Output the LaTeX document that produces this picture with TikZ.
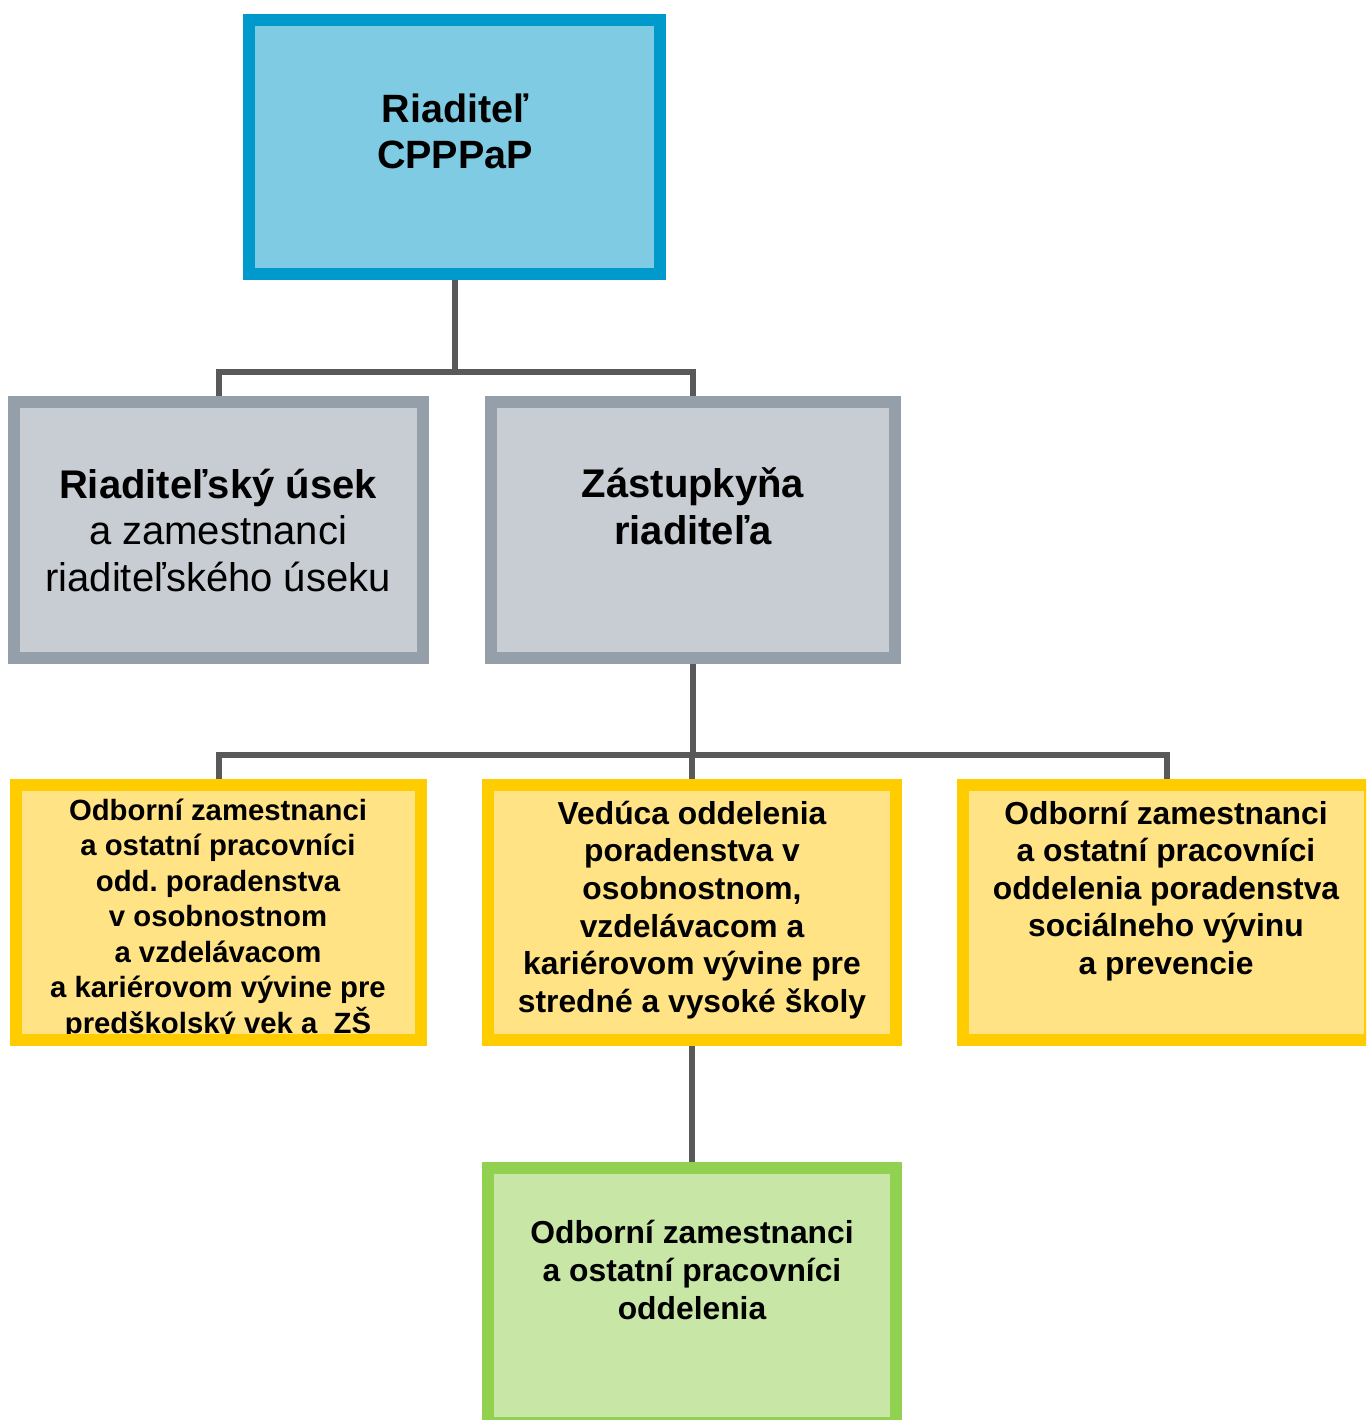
\documentclass[tikz,border=0pt]{standalone}
\usepackage{fontspec}
\setmainfont{Liberation Sans}
\frenchspacing
\usetikzlibrary{backgrounds}
\definecolor{topfill}{HTML}{7FCBE4}
\definecolor{topdraw}{HTML}{0099CC}
\definecolor{grayfill}{HTML}{C8CDD4}
\definecolor{graydraw}{HTML}{959FA9}
\definecolor{yelfill}{HTML}{FFE384}
\definecolor{yeldraw}{HTML}{FFCC00}
\definecolor{grnfill}{HTML}{C8E6A6}
\definecolor{grndraw}{HTML}{92D050}
\definecolor{conncol}{HTML}{595959}
\tikzset{
  box/.style={draw, line width=12pt, inner sep=0pt, outer sep=0pt, rectangle},
  bluebox/.style={box, fill=topfill, draw=topdraw},
  graybox/.style={box, fill=grayfill, draw=graydraw},
  yelbox/.style={box, fill=yelfill, draw=yeldraw},
  grnbox/.style={box, fill=grnfill, draw=grndraw},
  txt/.style={align=center, inner sep=0pt, text=black},
  conn/.style={draw=conncol, line width=6pt}
}
\begin{document}
\begin{tikzpicture}[x=1pt, y=-1pt]
\useasboundingbox (0,0) rectangle (1366,1420);
\clip (0,0) rectangle (1366,1420);
% boxes
\node[bluebox, minimum width=411pt, minimum height=254pt] (top) at (454.5,147) {};
\node[graybox, minimum width=409pt, minimum height=256pt] (gl) at (218.5,530) {};
\node[graybox, minimum width=404pt, minimum height=256pt] (gr) at (693,530) {};
\node[yelbox, minimum width=405pt, minimum height=255pt] (yl) at (218.5,912.5) {};
\node[yelbox, minimum width=408pt, minimum height=255pt] (ym) at (692,912.5) {};
\node[yelbox, minimum width=407pt, minimum height=255pt] (yr) at (1166.5,912.5) {};
\node[grnbox, minimum width=408pt, minimum height=255pt] (gn) at (692,1295.5) {};
% texts
\node[txt, font=\fontsize{39.5}{46}\selectfont\bfseries] (ttop) at (455,131.5) {Riaditeľ\\CPPPaP};
\node[txt, font=\fontsize{40}{46.5}\selectfont] (tgl) at (218,530.5) {\textbf{Riaditeľský úsek}\\a zamestnanci\\riaditeľského úseku};
\node[txt, font=\fontsize{40}{47}\selectfont\bfseries] (tgr) at (693,506) {Zástupkyňa\\riaditeľa};
\node[txt, font=\fontsize{29.3}{35.5}\selectfont\bfseries] (tyl) at (218,919) {Odborní zamestnanci\\a ostatní pracovníci\\odd. poradenstva\\v osobnostnom\\a vzdelávacom\\a kariérovom vývine pre\\predškolský vek a ~ZŠ};
\node[txt, font=\fontsize{31.8}{37.6}\selectfont\bfseries] (tym) at (692,910) {Vedúca oddelenia\\poradenstva v\\osobnostnom,\\vzdelávacom a\\kariérovom vývine pre\\stredné a vysoké školy};
\node[txt, font=\fontsize{31.8}{37.6}\selectfont\bfseries] (tyr) at (1166,891) {Odborní zamestnanci\\a ostatní pracovníci\\oddelenia poradenstva\\sociálneho vývinu\\a prevencie};
\node[txt, font=\fontsize{31.8}{38}\selectfont\bfseries] (tgn) at (692,1270) {Odborní zamestnanci\\a ostatní pracovníci\\oddelenia};
% border of left yellow box drawn over its text (text is cut by the border)
\draw[line width=12pt, draw=yeldraw] (yl.south west) rectangle (yl.north east);
% connectors
\coordinate (j1) at (454.5,372);
\coordinate (j2) at (693,755);
\begin{scope}[on background layer]
\draw[conn] (top.south) -- (j1);
\draw[conn] (gl.north) |- (j1) -| (gr.north);
\draw[conn] (gr.south) -- (j2);
\draw[conn] (yl.north) |- (j2) -| (yr.north);
\draw[conn] (ym.north) -- (ym.north |- j2);
\draw[conn] (ym.south) -- (gn.north);
\end{scope}
\end{tikzpicture}
\end{document}
